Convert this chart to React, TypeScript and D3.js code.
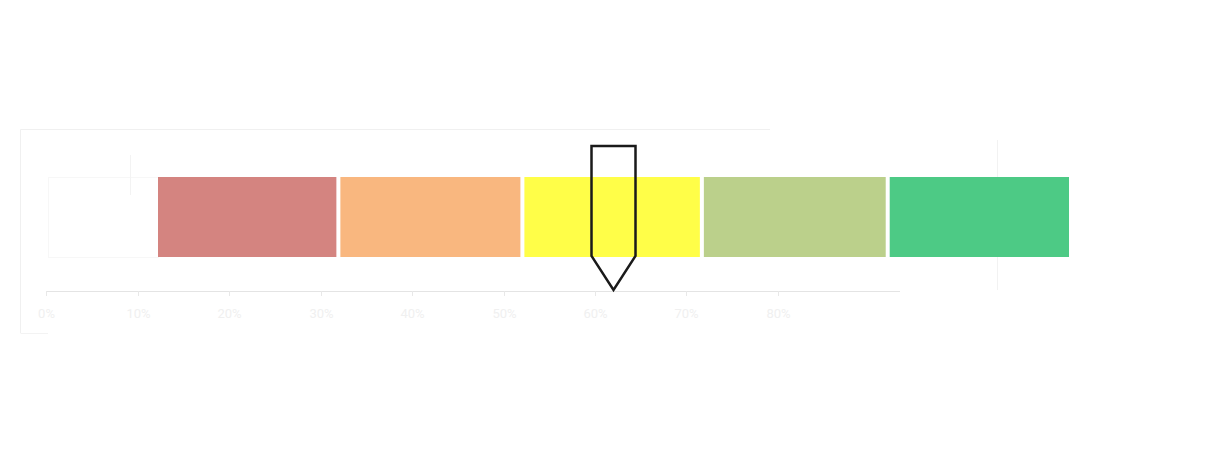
import React from "react";
import * as d3 from "d3";

const bandLabels = ["Poor", "Fair", "Average", "Good", "Excellent"];
const bandStarts = [0, 19.8, 40, 59.7, 80.1];
const bandEnds = [19.8, 40, 59.7, 80.1, 100];
const bandColors = ["#d48480", "#f9b77f", "#fffe48", "#bbd08b", "#4dca85"];
const axisTicks = [0, 10, 20, 30, 40, 50, 60, 70, 80];
const axisLabels = ["0%", "10%", "20%", "30%", "40%", "50%", "60%", "70%", "80%"];
const pointerValue = 50;

const W = 1232;
const H = 473;

export default function App() {
  const axisX = d3.scaleLinear().domain([0, 100]).range([46, 961]);
  const barX = d3.scaleLinear().domain([0, 100]).range([158, 1069]);
  const barTop = 177;
  const barBottom = 257;
  const gap = 4;
  const px = barX(pointerValue);
  const axisY = 291;

  const pointerPath = d3.path();
  pointerPath.moveTo(px - 22, 146);
  pointerPath.lineTo(px + 22, 146);
  pointerPath.lineTo(px + 22, 256);
  pointerPath.lineTo(px, 290);
  pointerPath.lineTo(px - 22, 256);
  pointerPath.closePath();

  return (
    <svg
      width={W}
      height={H}
      style={{ position: "absolute", left: 0, top: 0, background: "#fff" }}
      fontFamily="Roboto, sans-serif"
    >
      <rect x={0} y={0} width={W} height={H} fill="#fff" />
      {/* faint frame */}
      <path d="M20.5,333 L20.5,129.5 L770,129.5" fill="none" stroke="#f0f0f0" strokeWidth={1} />
      <line x1={20.5} x2={48} y1={333.5} y2={333.5} stroke="#f3f3f3" />
      <rect x={48.5} y={177.5} width={110} height={80} fill="none" stroke="#f7f7f7" />
      <line x1={130.5} x2={130.5} y1={155} y2={195} stroke="#f3f3f3" />
      <line x1={997.5} x2={997.5} y1={140} y2={290} stroke="#f2f2f2" />
      {/* bands */}
      {bandStarts.map((s, i) => {
        const x0 = i === 0 ? barX(s) : barX(s) + gap / 2;
        const x1 = i === bandStarts.length - 1 ? barX(bandEnds[i]) : barX(bandEnds[i]) - gap / 2;
        return (
          <rect
            key={bandLabels[i]}
            x={x0}
            y={barTop}
            width={x1 - x0}
            height={barBottom - barTop}
            fill={bandColors[i]}
          >
            <title>{bandLabels[i]}</title>
          </rect>
        );
      })}
      {/* axis */}
      <line x1={axisX(0)} x2={900} y1={axisY + 0.5} y2={axisY + 0.5} stroke="#e4e4e4" />
      {axisTicks.map((t, i) => (
        <g key={t} transform={`translate(${Math.round(axisX(t)) + 0.5},${axisY})`}>
          <line y1={0} y2={5} stroke="#e8e8e8" />
          <text y={27} textAnchor="middle" fontSize={13} fill="#f0f0f0">
            {axisLabels[i]}
          </text>
        </g>
      ))}
      {/* pointer */}
      <path
        d={pointerPath.toString()}
        fill="none"
        stroke="#1a1a1a"
        strokeWidth={2.5}
        strokeLinejoin="miter"
      />
    </svg>
  );
}
